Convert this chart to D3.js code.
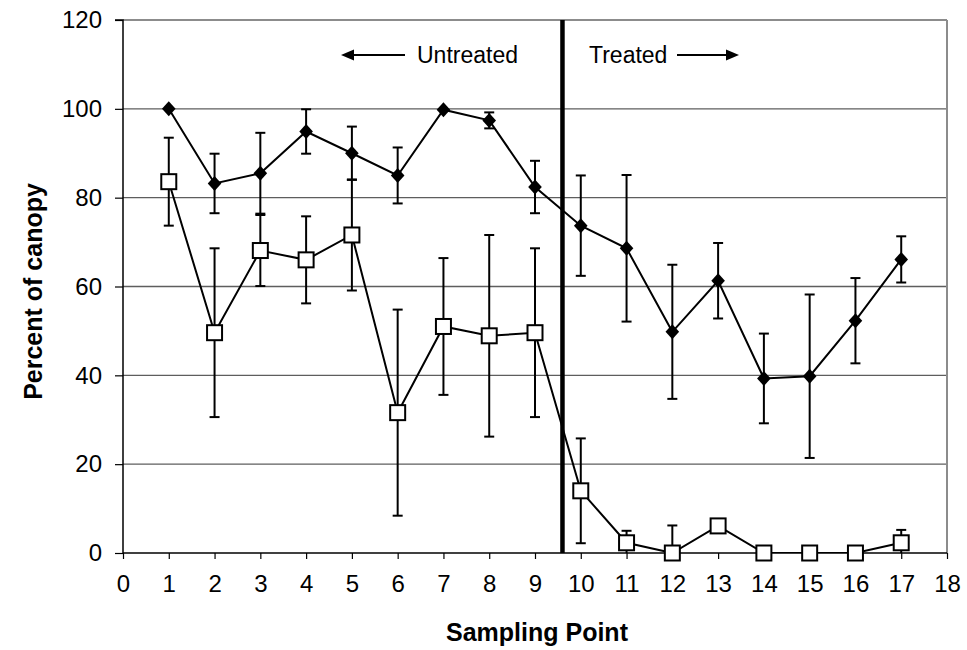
<!DOCTYPE html>
<html>
<head>
<meta charset="utf-8">
<script src="https://cdn.jsdelivr.net/npm/d3@7"></script>
<style>
  body { margin: 0; background: #fff; }
  svg { display: block; font-family: "Liberation Sans", Arial, sans-serif; }
</style>
</head>
<body>
<svg id="chart" width="967" height="650"></svg>
<script>
// Sampling points along the transect
const points = [1, 2, 3, 4, 5, 6, 7, 8, 9, 10, 11, 12, 13, 14, 15, 16, 17];
// Filled diamonds: canopy cover with standard error
const seriesA = [100, 83.2, 85.5, 94.9, 90, 85, 99.8, 97.4, 82.4, 73.7, 68.6, 49.8, 61.3, 39.3, 39.8, 52.3, 66.1];
const errA    = [0, 6.7, 9.1, 5, 6, 6.3, 0, 1.8, 5.9, 11.3, 16.5, 15.1, 8.5, 10.1, 18.4, 9.6, 5.2];
// Open squares: canopy cover with standard error
const seriesB = [83.6, 49.6, 68.1, 66, 71.6, 31.6, 51, 48.9, 49.6, 14, 2.3, 0, 6.1, 0, 0, 0, 2.3];
const errB    = [9.9, 19, 8, 9.8, 12.5, 23.2, 15.4, 22.7, 19, 11.8, 2.7, 6.2, 0, 0, 0, 0, 2.9];
// Axis ticks
const xTicks = d3.range(0, 19, 1);
const yTicks = [0, 20, 40, 60, 80, 100, 120];
// Boundary between untreated and treated sections
const boundary = 9.6;

const svg = d3.select("#chart");
const margin = { left: 123, right: 20, top: 20, bottom: 97 };
const W = 967, H = 650;
const FS = 24;
const x = d3.scaleLinear().domain([0, 18]).range([margin.left, W - margin.right]);
const y = d3.scaleLinear().domain([0, 120]).range([H - margin.bottom, margin.top]);

svg.append("defs").append("clipPath").attr("id", "plotClip")
  .append("rect")
  .attr("x", x(0)).attr("y", y(120))
  .attr("width", x(18) - x(0)).attr("height", y(0) - y(120));

// Horizontal gridlines
svg.append("g").selectAll("line").data(yTicks.filter(d => d > 0)).join("line")
  .attr("x1", x(0)).attr("x2", x(18))
  .attr("y1", d => y(d)).attr("y2", d => y(d))
  .attr("stroke", d => d === 120 ? "#8c8c8c" : "#5e5e5e").attr("stroke-width", d => d === 120 ? 2 : 1.4);

// Right border
svg.append("line")
  .attr("x1", x(18)).attr("x2", x(18)).attr("y1", y(120)).attr("y2", y(0))
  .attr("stroke", "#8c8c8c").attr("stroke-width", 2);

// Axes
const yAxis = d3.axisLeft(y).tickValues(yTicks).tickSize(8).tickPadding(13);
const gy = svg.append("g").attr("transform", `translate(${x(0)},0)`).call(yAxis);
const xAxis = d3.axisBottom(x).tickValues(xTicks).tickSize(6).tickPadding(16).tickFormat(d3.format("d"));
const gx = svg.append("g").attr("transform", `translate(0,${y(0)})`).call(xAxis);
[gx, gy].forEach(g => {
  g.select(".domain").attr("stroke", "#000").attr("stroke-width", 1.5);
  g.selectAll(".tick line").attr("stroke", "#000").attr("stroke-width", 1.2);
  g.selectAll(".tick text").attr("font-size", FS).attr("fill", "#000")
    .attr("font-family", "'Liberation Sans', Arial, sans-serif");
});
gy.select(".domain").attr("d", `M-8,${y(120)}H0V${y(0)}`);
gx.select(".domain").attr("d", `M${x(0)},0H${x(18)}`);

// Axis titles
svg.append("text")
  .attr("x", (x(0) + x(18)) / 2 + 2).attr("y", 641)
  .attr("text-anchor", "middle").attr("font-size", 25).attr("font-weight", "bold")
  .text("Sampling Point");
svg.append("text")
  .attr("transform", `translate(42,${(y(0) + y(120)) / 2 + 5}) rotate(-90)`)
  .attr("text-anchor", "middle").attr("font-size", 25).attr("font-weight", "bold")
  .text("Percent of canopy");

// Treatment boundary
svg.append("line")
  .attr("x1", x(boundary)).attr("x2", x(boundary))
  .attr("y1", y(120)).attr("y2", y(0))
  .attr("stroke", "#000").attr("stroke-width", 4.5);

// Section labels with arrows
const ann = svg.append("g").attr("font-size", 23);
ann.append("text").attr("x", 417).attr("y", 63).text("Untreated");
ann.append("text").attr("x", 589).attr("y", 63).text("Treated");
const arrow = (x1, x2, yy) => {
  const dir = Math.sign(x2 - x1);
  ann.append("line").attr("x1", x1).attr("x2", x2 - dir * 8).attr("y1", yy).attr("y2", yy)
    .attr("stroke", "#000").attr("stroke-width", 2);
  ann.append("path")
    .attr("d", `M${x2},${yy}L${x2 - dir * 13},${yy - 5.5}L${x2 - dir * 13},${yy + 5.5}Z`)
    .attr("fill", "#000");
};
arrow(405, 341, 55);
arrow(677, 739, 55);

const plot = svg.append("g").attr("clip-path", "url(#plotClip)");

function drawSeries(vals, errs) {
  const data = points.map((p, i) => ({ p, v: vals[i], e: errs[i] }));
  // Error bars
  const eb = plot.append("g").attr("stroke", "#000").attr("stroke-width", 2);
  data.filter(d => d.e > 0).forEach(d => {
    const cx = x(d.p);
    eb.append("line").attr("x1", cx).attr("x2", cx).attr("y1", y(d.v + d.e)).attr("y2", y(d.v - d.e));
    eb.append("line").attr("x1", cx - 5).attr("x2", cx + 5).attr("y1", y(d.v + d.e)).attr("y2", y(d.v + d.e));
    eb.append("line").attr("x1", cx - 5).attr("x2", cx + 5).attr("y1", y(d.v - d.e)).attr("y2", y(d.v - d.e));
  });
  // Connecting line
  plot.append("path").datum(data)
    .attr("d", d3.line().x(d => x(d.p)).y(d => y(d.v)))
    .attr("fill", "none").attr("stroke", "#000").attr("stroke-width", 2);
  return data;
}

const dataB = drawSeries(seriesB, errB);
const dataA = drawSeries(seriesA, errA);

// Markers drawn above lines
svg.append("g").selectAll("rect").data(dataB).join("rect")
  .attr("x", d => x(d.p) - 7.5).attr("y", d => y(d.v) - 7.5)
  .attr("width", 15).attr("height", 15)
  .attr("fill", "#fff").attr("stroke", "#000").attr("stroke-width", 2);

svg.append("g").selectAll("path").data(dataA).join("path")
  .attr("transform", d => `translate(${x(d.p)},${y(d.v)})`)
  .attr("d", "M0,-7.5L6.8,0L0,7.5L-6.8,0Z")
  .attr("fill", "#000");
</script>
</body>
</html>
